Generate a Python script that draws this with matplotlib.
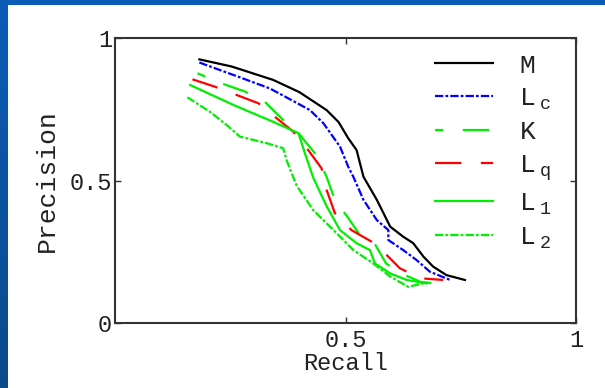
import numpy as np
import matplotlib
matplotlib.use("Agg")
import matplotlib.pyplot as plt

# Curvas precision / recall
m_recall = [0.183, 0.253, 0.343, 0.40, 0.459, 0.485, 0.506, 0.524, 0.539, 0.568, 0.597, 0.625, 0.647, 0.669, 0.690, 0.719, 0.759]
m_prec = [0.925, 0.900, 0.853, 0.810, 0.747, 0.705, 0.648, 0.607, 0.513, 0.432, 0.338, 0.303, 0.280, 0.233, 0.198, 0.168, 0.151]

lc_recall = [0.183, 0.286, 0.336, 0.423, 0.452, 0.488, 0.506, 0.517, 0.539, 0.568, 0.593, 0.593, 0.625, 0.654, 0.683, 0.727]
lc_prec = [0.914, 0.853, 0.823, 0.747, 0.701, 0.619, 0.548, 0.513, 0.432, 0.361, 0.326, 0.291, 0.256, 0.221, 0.180, 0.151]

k_recall = [0.179, 0.231, 0.282, 0.325, 0.365, 0.401, 0.437, 0.459, 0.477, 0.504, 0.529, 0.563, 0.588, 0.621, 0.663, 0.690]
k_prec = [0.876, 0.841, 0.812, 0.776, 0.712, 0.660, 0.589, 0.513, 0.432, 0.373, 0.314, 0.279, 0.209, 0.174, 0.144, 0.140]

lq_recall = [0.168, 0.217, 0.264, 0.311, 0.351, 0.387, 0.419, 0.448, 0.459, 0.477, 0.513, 0.557, 0.589, 0.618, 0.662, 0.712]
lq_prec = [0.855, 0.829, 0.800, 0.771, 0.718, 0.671, 0.607, 0.543, 0.467, 0.385, 0.326, 0.285, 0.239, 0.192, 0.157, 0.151]

l1_recall = [0.163, 0.257, 0.343, 0.398, 0.412, 0.430, 0.459, 0.488, 0.524, 0.553, 0.564, 0.597, 0.633, 0.676]
l1_prec = [0.835, 0.765, 0.706, 0.666, 0.595, 0.510, 0.410, 0.326, 0.280, 0.256, 0.209, 0.174, 0.151, 0.139]

l2_recall = [0.157, 0.206, 0.242, 0.271, 0.329, 0.365, 0.372, 0.394, 0.430, 0.474, 0.517, 0.560, 0.597, 0.636, 0.669]
l2_prec = [0.792, 0.741, 0.695, 0.654, 0.631, 0.613, 0.572, 0.482, 0.396, 0.326, 0.256, 0.209, 0.163, 0.127, 0.139]

plt.rcParams["font.family"] = ["Liberation Mono", "DejaVu Sans"]
plt.rcParams["mathtext.fontset"] = "custom"
plt.rcParams["mathtext.rm"] = "Liberation Mono"
plt.rcParams["mathtext.it"] = "Liberation Mono"
plt.rcParams["lines.scale_dashes"] = False

fig = plt.figure(figsize=(6.05, 3.88), dpi=100)
fig.patch.set_facecolor("white")

# Borde azul de la diapositiva (arriba e izquierda)
top = fig.add_axes([0, 1 - 5 / 388, 1, 5 / 388])
top.axis("off")
top.add_patch(plt.Rectangle((0, 0), 1, 1, color="#0a5cb6", transform=top.transAxes))
left = fig.add_axes([0, 0, 8 / 605, 1])
grad = np.linspace(0, 1, 100).reshape(-1, 1)
left.imshow(grad, aspect="auto", cmap=matplotlib.colors.LinearSegmentedColormap.from_list("b", ["#0b5cb6", "#0c4a8a"]))
left.axis("off")

ax = fig.add_axes([115 / 605, 1 - 323 / 388, 461 / 605, 285 / 388])

verde = "#00ee00"
ax.plot(m_recall, m_prec, color="black", lw=1.6, label="M")
ax.plot(lc_recall, lc_prec, color="#0000ff", lw=1.6, linestyle=(0, (6, 1.5, 2, 1.5)), label="L$\\;_\\mathrm{c}$")
ax.plot(k_recall, k_prec, color=verde, lw=1.6, linestyle=(13, (19, 14)), label="K")
ax.plot(lq_recall, lq_prec, color="#ff0000", lw=1.6, linestyle=(0, (19, 14)), label="L$\\;_\\mathrm{q}$")
ax.plot(l1_recall, l1_prec, color=verde, lw=1.6, label="L$\\;_\\mathrm{1}$")
ax.plot(l2_recall, l2_prec, color=verde, lw=1.6, linestyle=(0, (6, 1.5, 2, 1.5)), label="L$\\;_\\mathrm{2}$")

ax.set_xlim(0, 1)
ax.set_ylim(0, 1)
ax.set_xticks([0.5, 1])
ax.set_xticklabels(["0.5", "1"])
ax.set_yticks([0, 0.5, 1])
ax.set_yticklabels(["0", "0.5", "1"])
ax.tick_params(direction="in", length=4, width=1, colors="#333333", labelcolor="#222222",
               labelsize=17, top=True, right=True, pad=2)
ax.tick_params(axis="x", pad=4)
for s in ax.spines.values():
    s.set_linewidth(1.5)
    s.set_color("#333333")

ax.set_xlabel("Recall", fontsize=17, color="#222222", labelpad=0)
ax.set_ylabel("Precision", fontsize=19, color="#222222")
ax.yaxis.set_label_coords(-0.122, 0.5)

leg = ax.legend(loc="upper left", bbox_to_anchor=(0.694, 0.945), frameon=False,
                fontsize=19, handlelength=2.2, handletextpad=1.0, labelspacing=0.33,
                borderpad=0, borderaxespad=0)
for t in leg.get_texts():
    t.set_color("#222222")

fig.savefig("out.png", dpi=100)
